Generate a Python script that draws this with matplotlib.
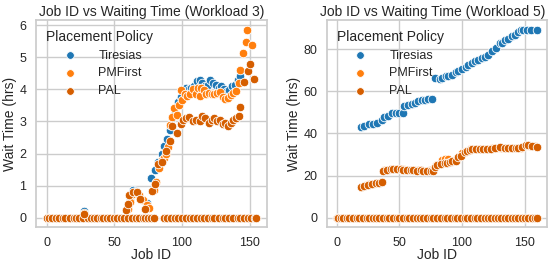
#!/usr/bin/env python3
"""
plot.py - Job ID vs waiting time scatter, two workloads side by side.

Writes: out.png
"""
import matplotlib
matplotlib.use("Agg")
import matplotlib.pyplot as plt
import seaborn as sns

POLICIES = ["Tiresias", "PMFirst", "PAL"]
COLORS = {
    "Tiresias": "#1f77b4",
    "PMFirst":  "#ff7f0e",
    "PAL":      "#d55e00",
}

# ---- Workload 3 -------------------------------------------------------------
# jobs with zero wait (same for every policy)
w3_zero_jobs = [0, 2, 4, 7, 9, 12, 14, 17, 20, 22, 24, 27, 31, 33, 35, 37, 40, 42,
                45, 47, 50, 52, 55, 57, 60, 63, 66, 68, 71, 73, 75, 77, 79, 87, 89,
                92, 95, 97, 100, 103, 106, 108, 111, 114, 116, 119, 122, 124, 127,
                130, 132, 135, 138, 141, 143, 146, 149, 151, 154, 155]

w3_tiresias_jobs = [28, 60, 62, 64, 66, 68, 71, 74, 77, 80, 82, 85, 87, 89, 91, 93,
                    95, 97, 99, 101, 103, 105, 107, 109, 111, 113, 115, 117, 119,
                    121, 123, 125, 127, 129, 131, 133, 135, 137, 139, 141, 143]
w3_tiresias_wait = [0.2, 0.3, 0.55, 0.85, 0.82, 0.7, 0.55, 0.47, 1.23, 1.5, 1.75,
                    2.0, 2.25, 2.45, 2.75, 3.1, 3.25, 3.6, 3.75, 4.0, 4.05, 4.0,
                    4.05, 4.1, 4.25, 4.3, 4.2, 4.1, 4.15, 4.3, 4.2, 4.15, 4.05, 4.1,
                    4.0, 3.95, 3.98, 4.1, 4.15, 4.3, 4.42]

w3_pmfirst_jobs = [28, 60, 62, 64, 66, 68, 71, 74, 76, 79, 81, 83, 85, 87, 88, 90,
                   91, 93, 94, 96, 98, 99, 100, 102, 104, 106, 108, 110, 112, 113,
                   114, 116, 118, 120, 122, 124, 126, 128, 130, 132, 134, 136, 138,
                   140, 142, 143, 145, 147, 148, 152]
w3_pmfirst_wait = [0.15, 0.28, 0.5, 0.75, 0.8, 0.72, 0.55, 0.4, 0.3, 0.85, 1.1,
                   1.55, 1.8, 1.85, 2.0, 2.2, 2.9, 3.15, 3.42, 3.2, 3.5, 3.98, 3.67,
                   3.85, 3.8, 3.85, 4.0, 3.85, 4.06, 3.78, 4.05, 3.98, 3.85, 3.9,
                   3.86, 3.85, 3.9, 3.93, 3.75, 3.7, 3.72, 3.82, 3.9, 3.95, 4.2,
                   4.62, 5.13, 5.47, 5.87, 5.38]

w3_pal_jobs = [28, 59, 60, 61, 64, 67, 69, 73, 78, 80, 82, 85, 88, 91, 93, 96, 99,
               101, 103, 105, 108, 110, 113, 115, 117, 120, 122, 124, 126, 128, 130,
               132, 134, 136, 138, 140, 142, 143, 146, 149, 150, 153]
w3_pal_wait = [0.1, 0.23, 0.44, 0.7, 0.8, 0.8, 0.59, 0.27, 0.82, 1.05, 1.67, 1.75,
               2.07, 2.39, 2.87, 2.65, 2.93, 3.05, 3.1, 3.14, 3.0, 3.05, 3.03, 3.18,
               3.1, 2.95, 3.05, 3.1, 3.0, 3.05, 2.93, 2.95, 2.87, 2.95, 3.06, 3.1,
               3.16, 3.45, 4.22, 4.59, 4.78, 4.33]

# ---- Workload 5 -------------------------------------------------------------
w5_zero_jobs = [0, 1, 3, 5, 8, 10, 13, 16, 18, 21, 24, 26, 29, 31, 34, 37, 40, 42,
                45, 48, 50, 53, 56, 58, 61, 64, 66, 69, 72, 75, 77, 80, 83, 86, 88,
                91, 94, 96, 99, 102, 104, 107, 110, 112, 115, 118, 121, 123, 126,
                129, 131, 134, 137, 140, 142, 145, 148, 150, 153, 156, 158, 160]

w5_tiresias_jobs = [19, 22, 26, 29, 32, 36, 38, 41, 44, 47, 50, 53, 54, 57, 60, 62,
                    65, 68, 70, 73, 76, 78, 82, 84, 87, 89, 92, 95, 97, 100, 103,
                    105, 108, 110, 113, 116, 118, 121, 124, 127, 130, 132, 134, 137,
                    140, 142, 145, 147, 149, 152, 155, 160]
w5_tiresias_wait = [43.1, 43.5, 44.4, 44.6, 45.0, 46.5, 48.0, 48.5, 49.6, 49.5,
                    49.6, 49.6, 53.0, 53.5, 54.0, 54.5, 55.5, 56.0, 56.1, 56.3,
                    56.6, 66.3, 66.0, 66.5, 67.2, 67.5, 68.0, 69.0, 69.5, 70.5,
                    71.8, 72.5, 73.7, 74.2, 75.0, 75.8, 76.5, 77.5, 79.3, 80.5,
                    83.1, 83.0, 84.4, 85.0, 86.3, 87.0, 88.2, 89.0, 89.4, 89.4,
                    89.2, 89.1]

w5_pmfirst_jobs = [19, 23, 26, 29, 32, 35, 38, 41, 44, 47, 50, 53, 56, 59, 62, 65,
                   68, 71, 74, 77, 79, 82, 84, 86, 89, 91, 94, 97, 100, 103, 106,
                   109, 112, 115, 118, 121, 124, 128, 131, 135, 138, 141, 144, 147,
                   150, 154, 158]
w5_pmfirst_wait = [14.8, 15.4, 15.8, 16.2, 16.6, 16.9, 22.5, 22.8, 23.1, 23.0,
                   23.2, 22.9, 22.7, 22.6, 22.5, 22.6, 22.4, 22.3, 22.5, 22.3,
                   24.8, 25.3, 27.5, 28.0, 27.8, 26.4, 27.2, 29.0, 30.5, 31.5,
                   32.4, 32.5, 32.6, 32.7, 32.6, 32.8, 33.0, 33.2, 33.1, 33.3,
                   33.0, 33.1, 33.2, 33.3, 34.2, 34.0, 33.9]

w5_pal_jobs = [19, 22, 25, 28, 31, 34, 36, 37, 40, 43, 45, 48, 51, 53, 56, 59, 61,
               64, 67, 69, 72, 75, 77, 78, 80, 83, 86, 88, 90, 92, 95, 97, 99, 102,
               104, 106, 108, 111, 114, 117, 120, 123, 126, 130, 134, 137, 140, 143,
               145, 148, 151, 153, 156, 160]
w5_pal_wait = [14.6, 15.2, 15.7, 16.0, 16.5, 16.7, 16.9, 22.4, 22.6, 23.0, 23.2,
               23.0, 23.1, 22.8, 22.6, 22.5, 22.6, 22.4, 22.5, 22.3, 22.4, 22.2,
               22.4, 24.3, 25.0, 25.5, 26.0, 26.2, 26.5, 26.8, 27.0, 28.7, 29.5,
               31.0, 31.8, 32.3, 32.6, 32.6, 32.5, 32.6, 32.7, 32.8, 33.0, 33.4,
               33.0, 33.2, 33.0, 33.2, 33.0, 33.4, 34.5, 34.3, 34.0, 33.8]


def scatter_policy(ax, zero_jobs, jobs, wait, policy):
    xs = list(zero_jobs) + list(jobs)
    ys = [0.0] * len(zero_jobs) + list(wait)
    ax.scatter(xs, ys, s=38, color=COLORS[policy], edgecolor="white",
               linewidth=0.6, label=policy, zorder=3)


def plot_panel(ax, title, zero_jobs, series, title_x=0.5):
    for policy in POLICIES:
        jobs, wait = series[policy]
        scatter_policy(ax, zero_jobs, jobs, wait, policy)
    ax.set_title(title, fontsize=10, pad=3, x=title_x)
    ax.set_xlabel("Job ID", fontsize=10, labelpad=-0.5)
    ax.set_ylabel("Wait Time (hrs)", fontsize=10, labelpad=2)
    ax.tick_params(labelsize=9, pad=0.8)
    ax.set_xticks([0, 50, 100, 150])
    leg = ax.legend(title="Placement Policy", loc="upper left", frameon=False,
                    fontsize=9, title_fontsize=10, labelspacing=0.45,
                    borderaxespad=0.4, handletextpad=1.3, markerscale=0.9)
    for t in leg.get_texts():
        t.set_color("#262626")


def main():
    sns.set_theme(style="whitegrid")
    plt.rcParams["font.family"] = ["Liberation Sans", "DejaVu Sans"]

    fig = plt.figure(figsize=(5.48, 2.61), dpi=100)
    ax1 = fig.add_axes([0.0657, 0.1300, 0.4215, 0.793])
    ax2 = fig.add_axes([0.5967, 0.1300, 0.4015, 0.793])

    plot_panel(ax1, "Job ID vs Waiting Time (Workload 3)", w3_zero_jobs, {
        "Tiresias": (w3_tiresias_jobs, w3_tiresias_wait),
        "PMFirst":  (w3_pmfirst_jobs, w3_pmfirst_wait),
        "PAL":      (w3_pal_jobs, w3_pal_wait),
    })
    ax1.set_yticks([0, 1, 2, 3, 4, 5, 6])

    plot_panel(ax2, "Job ID vs Waiting Time (Workload 5)", w5_zero_jobs, {
        "Tiresias": (w5_tiresias_jobs, w5_tiresias_wait),
        "PMFirst":  (w5_pmfirst_jobs, w5_pmfirst_wait),
        "PAL":      (w5_pal_jobs, w5_pal_wait),
    }, title_x=0.48)
    ax2.set_yticks([0, 20, 40, 60, 80])

    fig.savefig("out.png", dpi=100)
    plt.close(fig)


if __name__ == "__main__":
    main()
